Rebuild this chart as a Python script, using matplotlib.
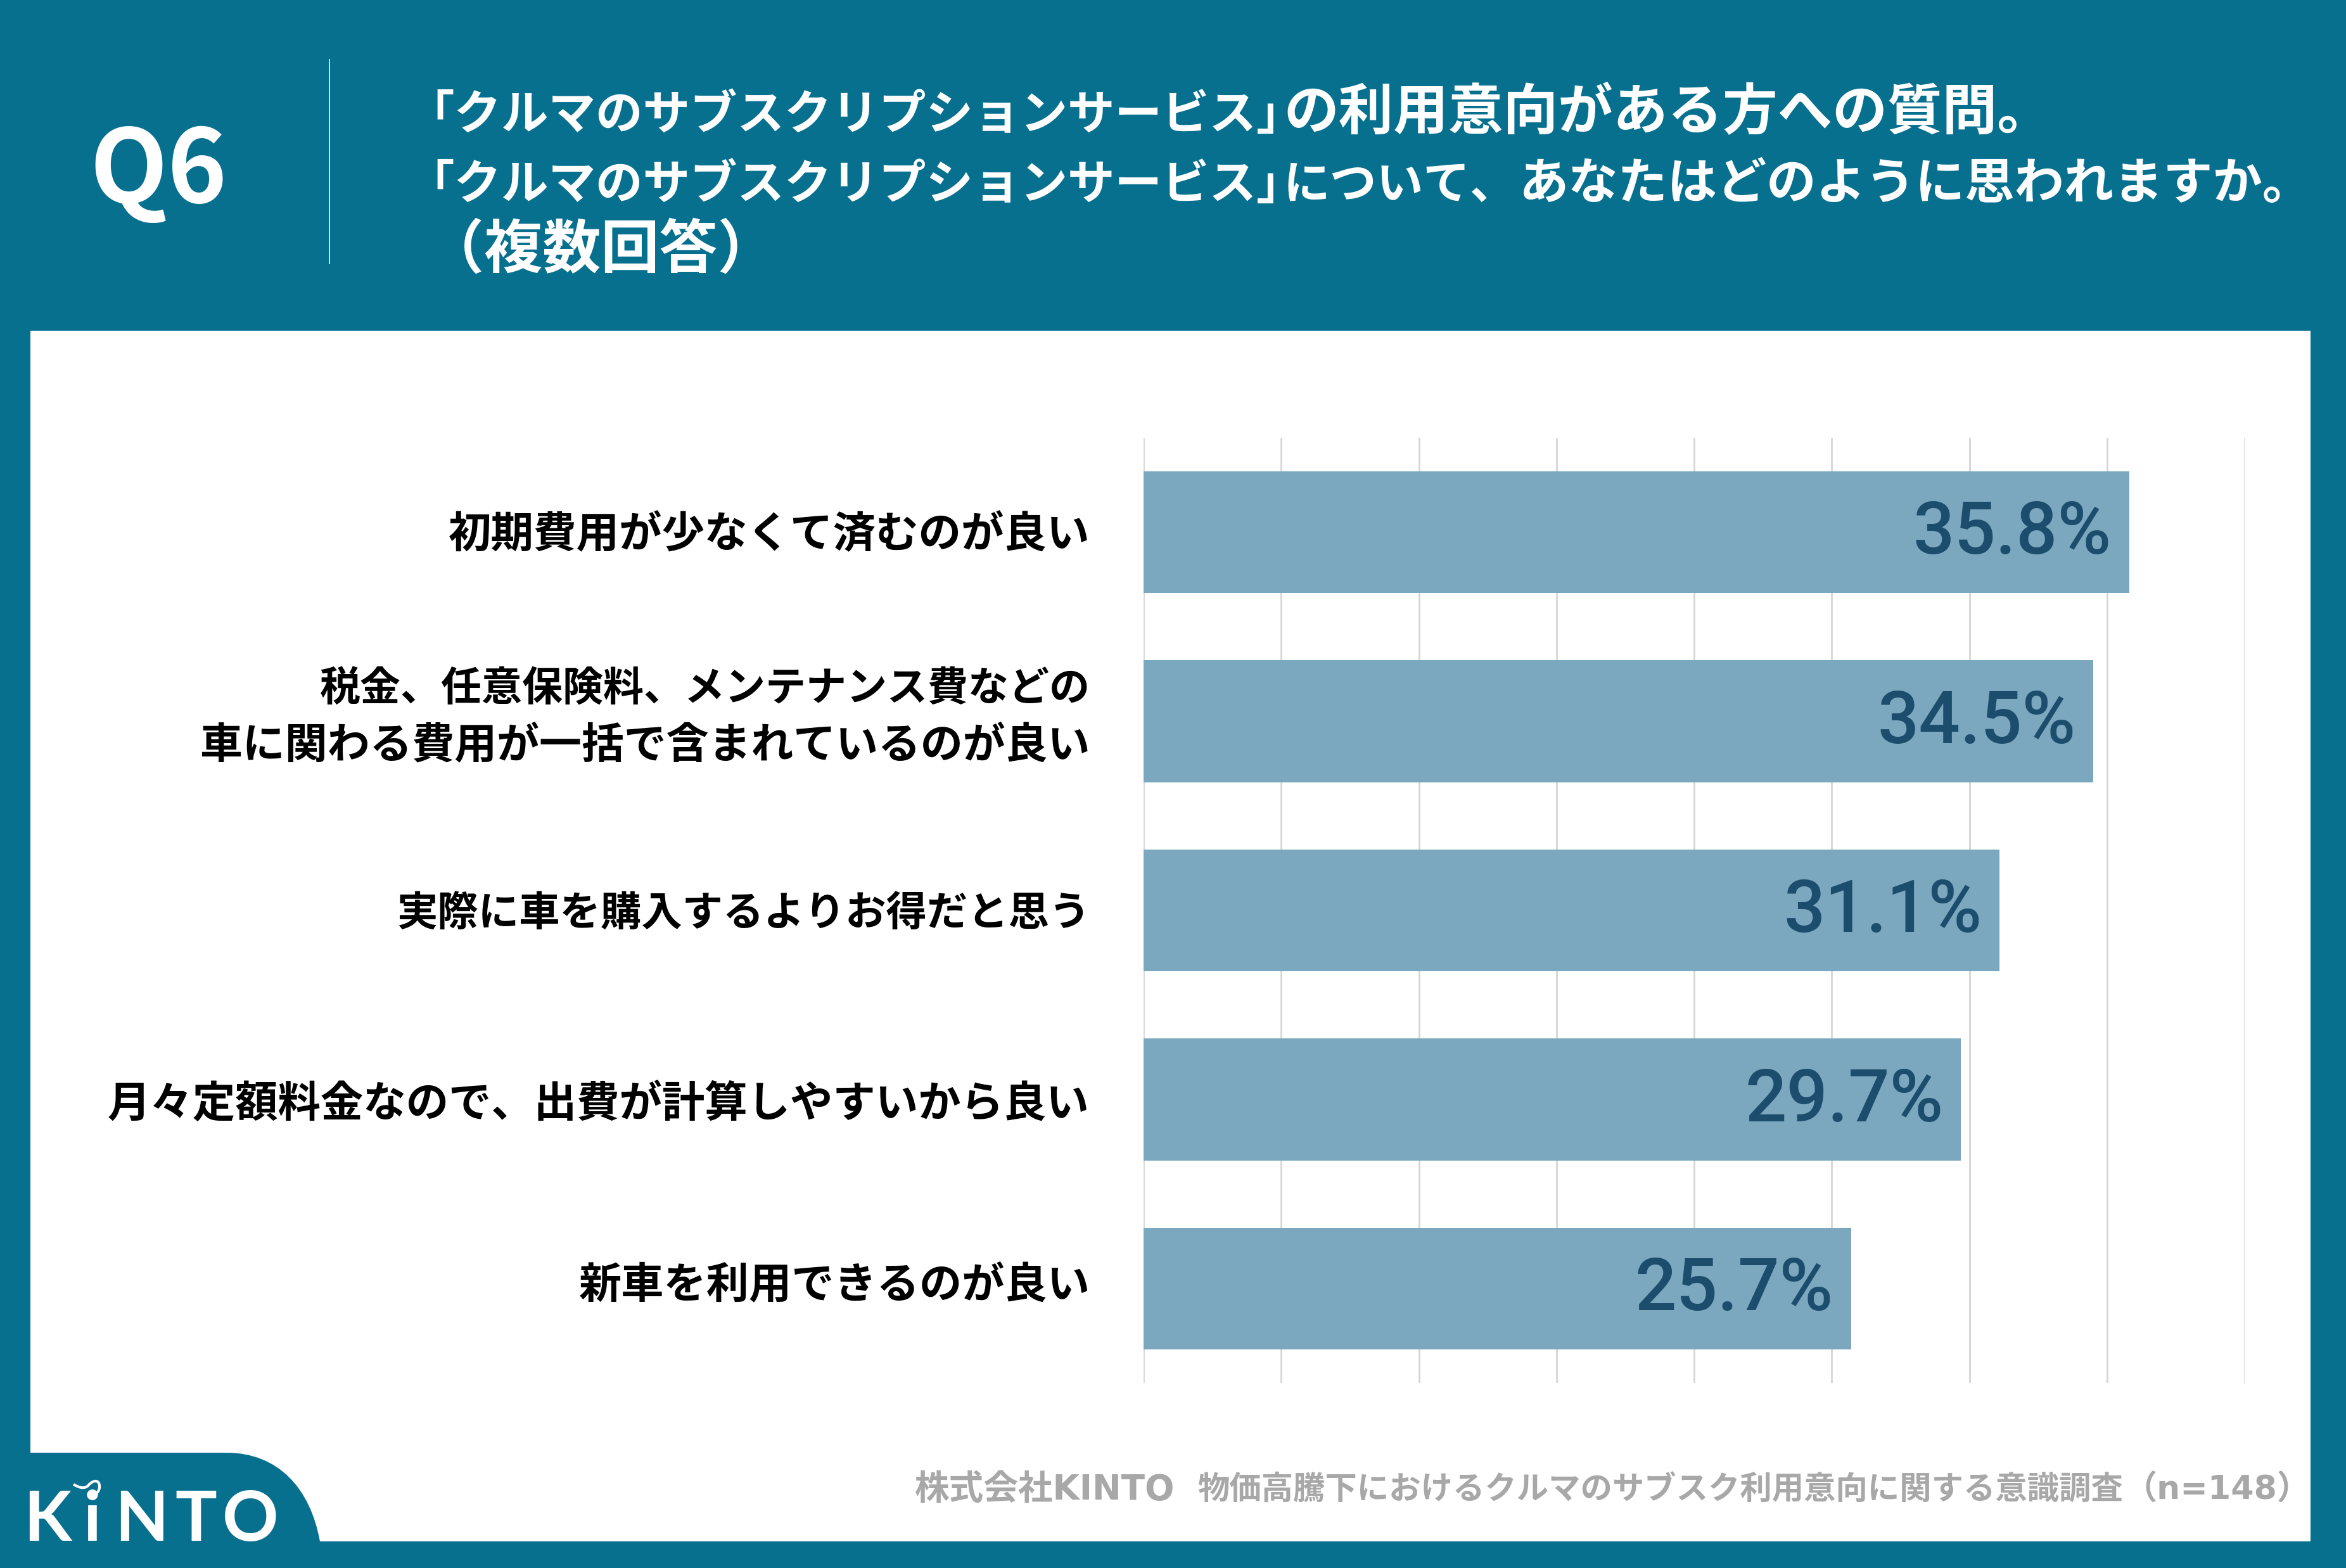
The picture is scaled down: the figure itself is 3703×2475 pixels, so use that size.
import matplotlib
matplotlib.use("Agg")
import matplotlib.pyplot as plt
from matplotlib.patches import Rectangle, PathPatch
from matplotlib.path import Path

plt.rcParams['font.family'] = ['Noto Sans CJK JP', 'DejaVu Sans']

categories = [
    "初期費用が少なくて済むのが良い",
    "税金、任意保険料、メンテナンス費などの\n車に関わる費用が一括で含まれているのが良い",
    "実際に車を購入するよりお得だと思う",
    "月々定額料金なので、出費が計算しやすいから良い",
    "新車を利用できるのが良い",
]
values = [35.8, 34.5, 31.1, 29.7, 25.7]
x_ticks = [0, 5, 10, 15, 20, 25, 30, 35, 40]
q_label = "Q6"
title_runs = [
    ["「クルマのサブスクリプションサービス」", "の利用意向がある方への質問。"],
    ["「クルマのサブスクリプションサービス」", "について、", "あなたはどのように思われますか。"],
    ["（複数回答）"],
]
footer_runs = ["株式会社KINTO", "物価高騰下におけるクルマのサブスク利用意向に関する意識調査", "（n=148）"]
logo_letters = ["K", "i", "N", "T", "O"]

W, H = 3703, 2475
TEAL = "#07708F"
fig = plt.figure(figsize=(W / 100, H / 100), dpi=100, facecolor=TEAL)
renderer = fig.canvas.get_renderer()

bg = fig.add_axes([0, 0, 1, 1], zorder=0)
bg.set_xlim(0, W)
bg.set_ylim(H, 0)
bg.axis("off")


def fit(txt, left, right, base, size=50, **kw):
    """Place txt so that it spans left..right in pixels, sized from its measured width."""
    t = bg.text(left, base, txt, fontsize=size, ha="left", va="baseline", **kw)
    w = t.get_window_extent(renderer).width
    t.set_fontsize(size * (right - left) / w)
    return t


bg.add_patch(Rectangle((48, 522), 3599, 1911, fc="white", ec="none"))
bg.plot([520, 520], [94, 416], color="#d5e5ea", lw=1.4)
bg.text(141, 320, q_label, color="white", fontsize=115, fontweight="bold", ha="left", va="baseline")

title_spans = [
    [(642, 2058), (2026, 3240)],
    [(642, 2058), (2026, 2395), (2398, 3652)],
    [(672, 1225)],
]
for runs, spans, base in zip(title_runs, title_spans, [204, 314, 423]):
    for txt, (l, r) in zip(runs, spans):
        fit(txt, l, r, base, color="white", fontweight="bold")

footer_spans = [(1444, 1855), (1890, 3352), (3352, 3646)]
for txt, (l, r) in zip(footer_runs, footer_spans):
    fit(txt, l, r, 2367, color="#A8A8A8", fontweight="bold", family=["DejaVu Sans", "Noto Sans CJK JP"])

tab = Path([(48, 2293), (357, 2293), (440, 2293), (490, 2350), (505, 2433), (48, 2433), (48, 2293)],
           [Path.MOVETO, Path.LINETO, Path.CURVE4, Path.CURVE4, Path.CURVE4, Path.LINETO, Path.CLOSEPOLY])
bg.add_patch(PathPatch(tab, fc=TEAL, ec="none"))
for ch, cx in zip(logo_letters, [75, 146, 223, 309, 395]):
    bg.text(cx, 2432, ch, color="white", fontsize=79, fontweight="bold", family=["Lato"],
            ha="center", va="baseline")
curl = Path([(116, 2343), (126, 2349), (134, 2350), (139, 2345),
             (146, 2336), (158, 2334), (157, 2348),
             (156, 2358), (146, 2362), (140, 2356)],
            [Path.MOVETO] + [Path.CURVE4] * 9)
bg.add_patch(PathPatch(curl, fc="none", ec="white", lw=3))

ax = fig.add_axes([1805 / W, 1 - 2183 / H, (3543 - 1805) / W, (2183 - 691) / H], zorder=1)
ax.patch.set_alpha(0)
ypos = list(range(len(categories)))
ax.barh(ypos, values, height=0.645, color="#7BA8BF", zorder=3)
ax.set_xlim(x_ticks[0], x_ticks[-1])
ax.set_ylim(len(categories) - 0.5, -0.5)
ax.set_xticks(x_ticks)
ax.set_yticks(ypos)
ax.tick_params(axis="both", length=0, labelbottom=False, labelleft=False)
ax.grid(axis="x", color="#D6D6D6", lw=2, zorder=0)
ax.set_axisbelow(True)
for s in ax.spines.values():
    s.set_visible(False)

label_right = 1720
label_lefts = [[708], [505, 316], [626], [170], [914]]
label_bases = [[864], [1107, 1197], [1461], [1763], [2049]]
for cat, lefts, bases in zip(categories, label_lefts, label_bases):
    for line, l, b in zip(cat.split("\n"), lefts, bases):
        fit(line, l, label_right, b, size=48, color="black", fontweight="bold")

for y, v in zip(ypos, values):
    ax.annotate(f"{v}%", (v, y), xytext=(-20, -2), textcoords="offset points",
                ha="right", va="center", fontsize=83, fontweight=500, color="#1D4D6D",
                family=["Roboto"], zorder=4)

fig.savefig("out.png", dpi=100, facecolor=TEAL)
